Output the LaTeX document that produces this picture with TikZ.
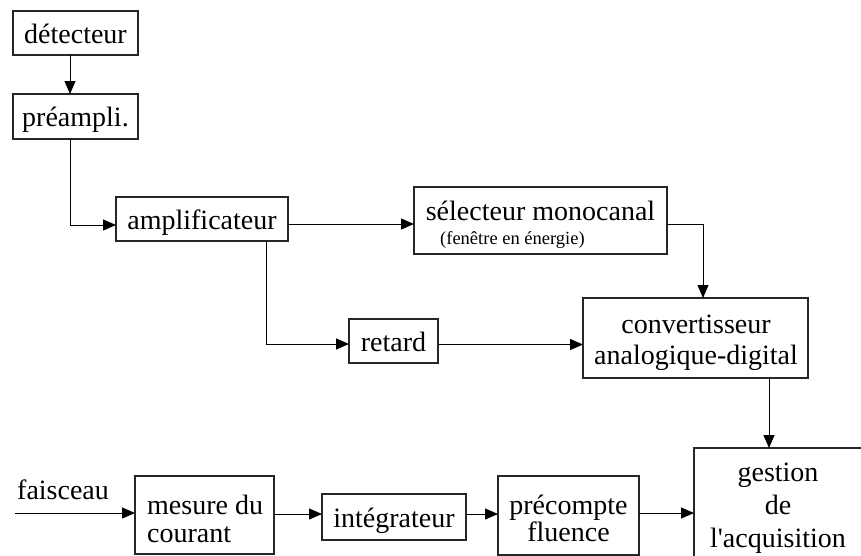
\documentclass[tikz,border=0pt]{standalone}
\usepackage{fontspec}
\setmainfont{Liberation Serif}
\usetikzlibrary{arrows.meta}
\begin{document}
\begin{tikzpicture}[x=1pt,y=-1pt,
  blk/.style={draw=black!85, line width=1.1pt, inner sep=0pt, outer sep=0pt,
    font=\fontsize{28}{31}\selectfont, text height=20pt, text depth=0pt},
  lbl/.style={font=\fontsize{28}{31}\selectfont, inner sep=0pt, anchor=base},
  arr/.style={-{Triangle[length=13pt,width=11pt]}, line width=1pt}]
\useasboundingbox (0,0) rectangle (861,555);
\clip (0,0) rectangle (861,555);
\fill[white] (0,0) rectangle (861,555);

% boxes
\node[blk, minimum width=125, minimum height=44] (det) at (75.5,33) {détecteur};
\node[blk, minimum width=125, minimum height=45] (pre) at (75.5,116.5) {préampli.};
\node[blk, minimum width=172, minimum height=44] (amp) at (202,219) {amplificateur};
\node[blk, minimum width=253, minimum height=67] (sel) at (540.5,220.5) {};
\node[lbl] (selA) at (540.5,220) {sélecteur monocanal};
\node[lbl, anchor=base west, font=\fontsize{18.5}{20}\selectfont] (selB) at (440,244) {(fenêtre en énergie)};
\node[blk, minimum width=89, minimum height=44] (ret) at (393.5,341) {retard};
\node[blk, minimum width=225, minimum height=80] (conv) at (695.5,338) {};
\node[lbl] (convA) at (696,333) {convertisseur};
\node[lbl] (convB) at (696,364) {analogique-digital};
\node[blk, minimum width=176, minimum height=152] (gest) at (782,524) {};
\node[lbl] (gestA) at (778,481.5) {gestion};
\node[lbl] (gestB) at (778,514.5) {de};
\node[lbl] (gestC) at (778,547.5) {l\textquotesingle acquisition};
\node[blk, minimum width=139, minimum height=78] (mes) at (204.5,515) {};
\node[lbl, anchor=base west] (mesA) at (147,514) {mesure du};
\node[lbl, anchor=base west] (mesB) at (147,542) {courant};
\node[blk, minimum width=144, minimum height=46] (int) at (394,517) {intégrateur};
\node[blk, minimum width=141, minimum height=79] (prec) at (568.5,515.5) {};
\node[lbl] (precA) at (568.5,514) {précompte};
\node[lbl] (precB) at (568.5,541) {fluence};
\node[lbl, anchor=base west] (fais) at (17,499) {faisceau};

% connectors
\draw[arr] ([xshift=-5.5pt]det.south) -- ([xshift=-5.5pt]pre.north);
\draw[arr] ([xshift=-5.5pt]pre.south) |- ([yshift=-6pt]amp.west);
\coordinate (a1) at ([yshift=-5pt]amp.east);
\draw[arr] (a1) -- (a1 -| sel.west);
\coordinate (a2) at (266,0);
\draw[arr] (a2 |- amp.south) |- ([yshift=-3pt]ret.west);
\coordinate (r1) at ([yshift=-3.5pt]ret.east);
\draw[arr] (r1) -- (r1 -| conv.west);
\coordinate (s1) at ([yshift=-3.5pt]sel.east);
\coordinate (c1) at (703,0);
\draw[arr] (s1) -| (c1 |- conv.north);
\coordinate (c2) at (769,0);
\draw[arr] (c2 |- conv.south) -- (c2 |- gest.north);
\coordinate (fin) at (15,513);
\draw[arr] (fin) -- (fin -| mes.west);
\coordinate (m1) at ([yshift=1pt]mes.east);
\draw[arr] (m1) -- (m1 -| int.west);
\draw[arr] (int.east |- m1) -- (m1 -| prec.west);
\coordinate (p1) at ([yshift=2.5pt]prec.east);
\draw[arr] (p1) -- (p1 -| gest.west);
\end{tikzpicture}
\end{document}
